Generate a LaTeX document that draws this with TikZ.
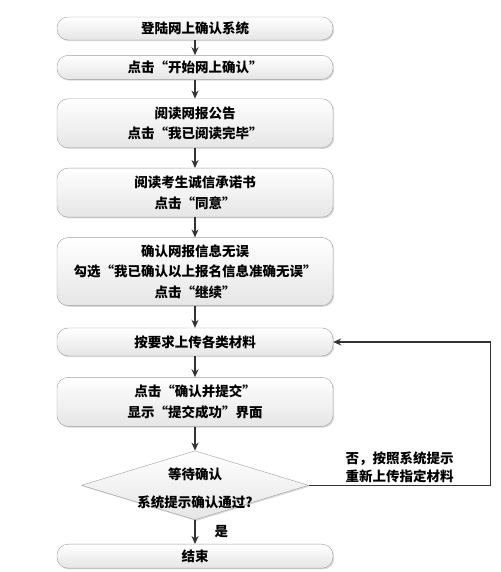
\documentclass[tikz,border=0pt]{standalone}
\usepackage{fontspec}
\setmainfont{Noto Sans CJK SC}
\usetikzlibrary{shapes.geometric, arrows.meta, positioning, shadows}
\tikzset{
    stepbox/.style={
        rectangle, draw=gray!75, rounded corners=11pt,
        minimum width=276pt, inner sep=0pt,
        top color=white, bottom color=gray!20,
        general shadow={fill=gray!30, shadow xshift=1.2pt, shadow yshift=-1.2pt},
        font=\fontsize{13.5}{20.5}\selectfont\bfseries, align=center
    },
    decision/.style={
        diamond, draw=gray!75, inner sep=0pt,
        minimum width=227pt, minimum height=69pt,
        top color=white, bottom color=gray!20,
        general shadow={fill=gray!30, shadow xshift=1.2pt, shadow yshift=-1.2pt}
    },
    note/.style={font=\fontsize{13.5}{18}\selectfont\bfseries, align=center, inner sep=1pt},
    flow/.style={draw=black!80, line width=1.2pt, -{Stealth[length=8pt, width=7pt]}}
}

\begin{document}
\begin{tikzpicture}[x=1pt, y=1pt]
\useasboundingbox (0,0) rectangle (500,572);

% Steps of the online confirmation
\node[stepbox, minimum height=23pt] (login) at (195,543.5) {登陆网上确认系统};
\node[stepbox, minimum height=24pt, below=15pt of login] (start) {点击“开始网上确认”};
\node[stepbox, minimum height=49pt, below=19pt of start] (notice) {阅读网报公告\\点击“我已阅读完毕”};
\node[stepbox, minimum height=49pt, below=20pt of notice] (promise) {阅读考生诚信承诺书\\点击“同意”};
\node[stepbox, minimum height=68pt, below=20pt of promise] (verify) {确认网报信息无误\\勾选“我已确认以上报名信息准确无误”\\点击“继续”};
\node[stepbox, minimum height=28pt, below=22pt of verify] (upload) {按要求上传各类材料};
\node[stepbox, minimum height=49pt, below=21pt of upload] (submit) {点击“确认并提交”\\显示“提交成功”界面};

% Decision
\node[decision, below=24pt of submit] (check) {};
\node[note, font=\fontsize{13.5}{28}\selectfont\bfseries, yshift=-3.5pt] (checktext) at (check) {等待确认\\系统提示确认通过?};

\node[stepbox, minimum height=24pt, below=24pt of check] (finish) {结束};

% Connectors
\draw[flow] (login.south) -- (start.north);
\draw[flow] (start.south) -- (notice.north);
\draw[flow] (notice.south) -- (promise.north);
\draw[flow] (promise.south) -- (verify.north);
\draw[flow] (verify.south) -- (upload.north);
\draw[flow] (upload.south) -- (submit.north);
\draw[flow] (submit.south) -- (check.north);
\draw[flow] (check.south) -- node[note, midway, right=18pt] (yes) {是} (finish.north);
\draw[flow] (check.east) -- node[note, midway, above=1pt] (no) {否，按照系统提示\\重新上传指定材料} ++(182,0) |- (upload.east);

\end{tikzpicture}
\end{document}
